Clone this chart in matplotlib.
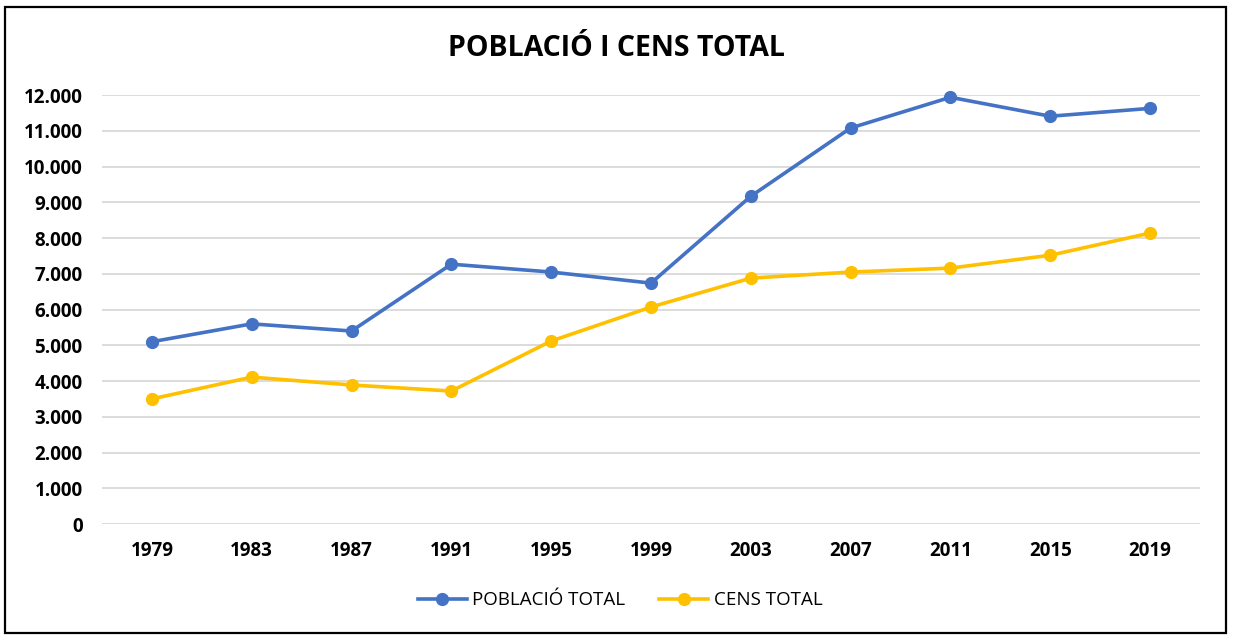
import numpy as np
import matplotlib.pyplot as plt
from matplotlib.patches import Rectangle
from matplotlib.ticker import FuncFormatter

plt.rcParams['font.family'] = ['Open Sans', 'DejaVu Sans']

# dades llegides del gràfic
anys = ['1979', '1983', '1987', '1991', '1995', '1999', '2003', '2007', '2011', '2015', '2019']
poblacio = [5100, 5600, 5400, 7270, 7050, 6740, 9170, 11080, 11940, 11410, 11630]
cens = [3500, 4110, 3890, 3720, 5120, 6070, 6880, 7050, 7160, 7520, 8140]

fig = plt.figure(figsize=(12.33, 6.42), dpi=100)
ax = fig.add_axes([0.0827, 0.1838, 0.8905, 0.668])

x = np.arange(len(anys))
ax.plot(x, poblacio, color='#4472C4', linewidth=2.6, marker='o', markersize=8.5,
        label='POBLACIÓ TOTAL', clip_on=False)
ax.plot(x, cens, color='#FFC000', linewidth=2.6, marker='o', markersize=8.5,
        label='CENS TOTAL', clip_on=False)

ax.set_xlim(-0.5, len(anys) - 0.5)
ax.set_ylim(0, 12000)
ax.set_yticks(np.arange(0, 12001, 1000))
ax.yaxis.set_major_formatter(FuncFormatter(lambda v, p: f'{int(v):,}'.replace(',', '.')))
ax.set_xticks(x)
ax.set_xticklabels(anys)
ax.tick_params(length=0, labelsize=13.5)
ax.tick_params(axis='y', pad=14)
ax.tick_params(axis='x', pad=12)
for lab in ax.get_xticklabels() + ax.get_yticklabels():
    lab.set_fontweight('bold')

ax.grid(axis='y', color='#D9D9D9', linewidth=1.3)
ax.set_axisbelow(True)
for s in ax.spines.values():
    s.set_visible(False)

fig.text(0.5, 0.925, 'POBLACIÓ I CENS TOTAL', ha='center', va='center', fontsize=20.5, fontweight='bold')

fig.legend(loc='center', bbox_to_anchor=(0.503, 0.065), ncol=2, frameon=False, fontsize=13.5,
           handlelength=2.6, columnspacing=1.8, handletextpad=0.3)

# marc negre del gràfic
fig.patches.append(Rectangle((0.004, 0.014), 0.99, 0.975, transform=fig.transFigure,
                             fill=False, edgecolor='black', linewidth=1.6))

plt.savefig('out.png', dpi=100)
